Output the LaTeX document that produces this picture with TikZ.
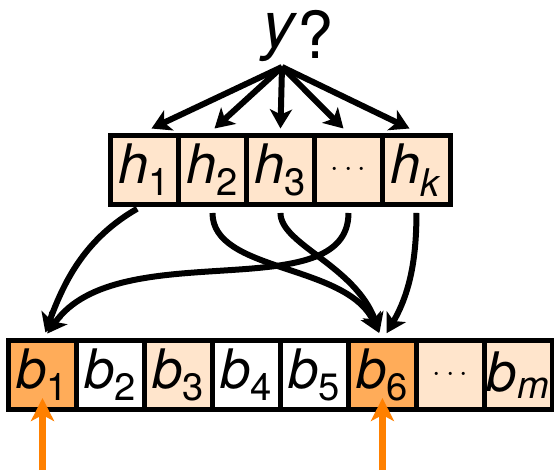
\documentclass[tikz,border=0pt]{standalone}
\usepackage{fontspec}
\setmainfont{TeX Gyre Heros}
\usepackage{tikz}
\usetikzlibrary{arrows.meta, calc, positioning}

\newcommand{\sym}[2]{\textit{#1}\textsubscript{#2}}
\newcommand{\gap}{{\fontsize{18}{20}\selectfont$\cdots$}}

\begin{document}
\begin{tikzpicture}[
    x=0.02cm, y=0.02cm,
    cell/.style={rectangle, draw, line width=0.11cm, minimum width=1.36cm, minimum height=1.38cm, inner sep=0pt, outer sep=0pt, font=\fontsize{31}{34}\selectfont},
    light/.style={fill=orange!20},
    dark/.style={fill=orange!65},
    plain/.style={fill=white},
    edge/.style={-{Stealth[length=0.38cm, width=0.44cm, inset=0.1cm]}, line width=0.12cm},
    link/.style={edge, shorten <=0.17cm, shorten >=0.17cm},
    ptr/.style={-{Stealth[length=0.46cm, width=0.46cm, inset=0.12cm]}, orange, line width=0.13cm}
]
    \useasboundingbox (0,0) rectangle (554,470);

    % Frage oben
    \coordinate (fork) at (282,403);
    \node[anchor=base west, inner sep=0pt, font=\fontsize{37}{40}\selectfont] (yq) at (262,411) {\raisebox{0.22cm}{\textit{y}}?};

    % obere Reihe: h
    \node[cell, light] (h1) at (144.5,300) {\sym{h}{1}};
    \node[cell, light, right=0pt of h1] (h2) {\sym{h}{2}};
    \node[cell, light, right=0pt of h2] (h3) {\sym{h}{3}};
    \node[cell, light, right=0pt of h3] (h4) {\gap};
    \node[cell, light, right=0pt of h4] (h5) {\sym{h}{\textit{k}}};

    % untere Reihe: b
    \node[cell, dark] (b1) at (42.5,95) {\sym{b}{1}};
    \node[cell, plain, right=0pt of b1] (b2) {\sym{b}{2}};
    \node[cell, light, right=0pt of b2] (b3) {\sym{b}{3}};
    \node[cell, plain, right=0pt of b3] (b4) {\sym{b}{4}};
    \node[cell, plain, right=0pt of b4] (b5) {\sym{b}{5}};
    \node[cell, dark, right=0pt of b5] (b6) {\sym{b}{6}};
    \node[cell, light, right=0pt of b6] (b7) {\gap};
    \node[cell, light, right=0pt of b7] (b8) {\sym{b}{\textit{m}}};

    % y? -> h
    \draw[edge] (fork) -- ($(h1.north)+(7,7)$);
    \draw[edge] (fork) -- ($(h2.north)+(2,7)$);
    \draw[edge] (fork) -- ($(h3.north)+(0,7)$);
    \draw[edge] (fork) -- ($(h4.north)+(-5,7)$);
    \draw[edge] (fork) -- ($(h5.north)+(-7,7)$);

    % h -> b
    \draw[link] (h1.south) to[out=210, in=70] (b1.north);
    \draw[link] (h4.south) to[out=-90, in=55, out looseness=0.8] (b1.north);
    \draw[link] (h2.south) to[out=-90, in=115, out looseness=0.8] (b6.north);
    \draw[link] (h3.south) to[out=-90, in=110, out looseness=0.6, in looseness=1.2] (b6.north);
    \draw[link] (h5.south) to[out=-90, in=60] (b6.north);

    % Zeiger von unten
    \coordinate (u1) at (b1.south |- 0,0);
    \coordinate (u6) at (b6.south |- 0,0);
    \draw[ptr] (u1) -- ($(b1.south)+(0,11.5)$);
    \draw[ptr] (u6) -- ($(b6.south)+(0,11.5)$);
\end{tikzpicture}
\end{document}
